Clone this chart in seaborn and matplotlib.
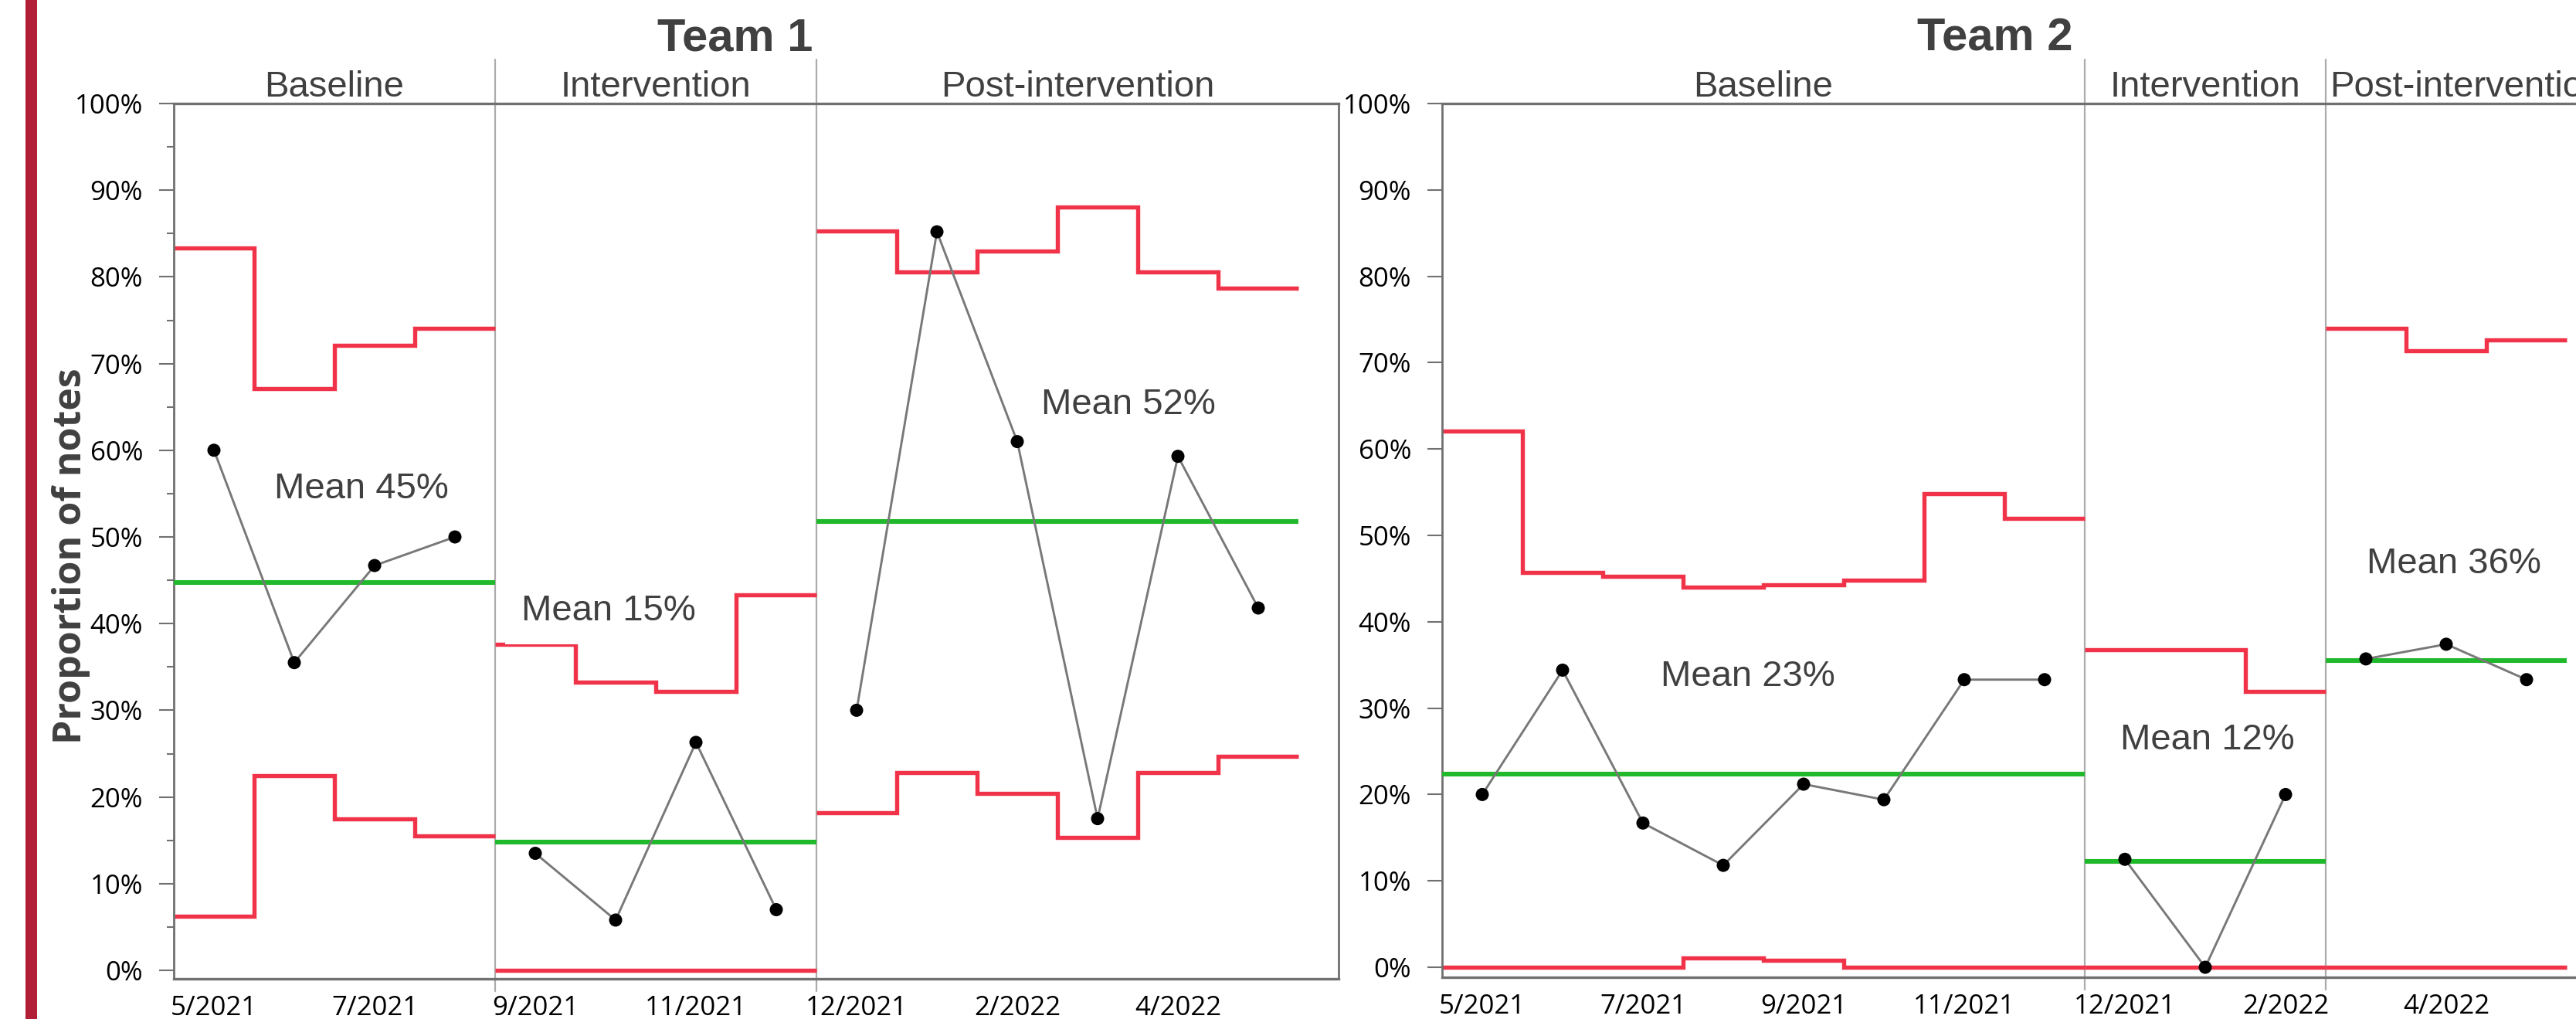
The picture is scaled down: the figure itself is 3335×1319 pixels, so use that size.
import numpy as np
import pandas as pd
import matplotlib.pyplot as plt
from matplotlib.patches import Rectangle
from matplotlib.ticker import PercentFormatter, MultipleLocator
import seaborn as sns


# ==================== DATA ====================
phase_names = ['Baseline', 'Intervention', 'Post-intervention']
month_ticks = [0, 2, 4, 6, 8, 10, 12]
month_labels = ['5/2021', '7/2021', '9/2021', '11/2021', '12/2021', '2/2022', '4/2022']

# Team 1
team1_counts = [4, 4, 6]
team1_pct = [0.600, 0.355, 0.467, 0.500,
             0.135, 0.058, 0.263, 0.070,
             0.300, 0.852, 0.610, 0.175, 0.593, 0.418]
team1_ucl = [0.833, 0.671, 0.721, 0.741,
             0.376, 0.332, 0.322, 0.433,
             0.853, 0.806, 0.830, 0.881, 0.806, 0.787]
team1_lcl = [0.062, 0.225, 0.175, 0.155,
             0.0, 0.0, 0.0, 0.0,
             0.182, 0.228, 0.204, 0.153, 0.228, 0.247]
team1_centre = [0.447, 0.148, 0.518]
team1_mean_labels = ['Mean 45%', 'Mean 15%', 'Mean 52%']

# Team 2
team2_counts = [8, 3, 3]
team2_pct = [0.200, 0.344, 0.167, 0.118, 0.212, 0.194, 0.333, 0.333,
             0.125, 0.0, 0.200,
             0.357, 0.374, 0.333]
team2_ucl = [0.621, 0.457, 0.453, 0.440, 0.443, 0.448, 0.548, 0.520,
             0.368, 0.368, 0.319,
             0.740, 0.714, 0.726]
team2_lcl = [0.0, 0.0, 0.0, 0.011, 0.008, 0.0, 0.0, 0.0,
             0.0, 0.0, 0.0,
             0.0, 0.0, 0.0]
team2_centre = [0.224, 0.123, 0.355]
team2_mean_labels = ['Mean 23%', 'Mean 12%', 'Mean 36%']

# ==================== STYLE ====================
RED = '#F03349'
GREEN = '#21B92C'
LINE_GREY = '#787878'
SEP_GREY = '#ACACAC'
SPINE_GREY = '#707070'
TEXT = '#404040'
TEXT_FONT = ['Liberation Sans', 'DejaVu Sans']
TICK_FONT = ['Open Sans', 'DejaVu Sans']

sns.set_theme(style='white')
plt.rcParams['font.family'] = TEXT_FONT

W, H = 3335, 1319
fig = plt.figure(figsize=(W / 100, H / 100), dpi=100)
fig.patch.set_facecolor('white')


def draw_team(ax, counts, pct, ucl, lcl, centre, mean_labels, mean_pos, ylim_lo, minor):
    pct = np.asarray(pct)
    ucl = np.asarray(ucl)
    lcl = np.asarray(lcl)
    idx = np.arange(len(pct))
    edges = np.concatenate([[-0.5], np.cumsum(counts) - 0.5])
    df = pd.DataFrame({'idx': idx, 'pct': pct,
                       'phase': np.repeat(phase_names, counts)})

    for k, name in enumerate(phase_names):
        lo, hi = edges[k], edges[k + 1]
        n = counts[k]
        sl = slice(int(lo + 0.5), int(hi + 0.5))
        step_edges = np.linspace(lo, hi, n + 1)
        ax.stairs(ucl[sl], step_edges, color=RED, lw=3.9, baseline=None, zorder=2)
        ax.stairs(lcl[sl], step_edges, color=RED, lw=3.9, baseline=None, zorder=2)
        ax.hlines(centre[k], lo, hi, color=GREEN, lw=4.4, zorder=3)
        sub = df[df['phase'] == name]
        sns.lineplot(data=sub, x='idx', y='pct', ax=ax, color=LINE_GREY,
                     lw=2.1, zorder=4)
        sns.scatterplot(data=sub, x='idx', y='pct', ax=ax, color='black',
                        s=150, edgecolor='none', zorder=5)

    xmax = 14.0
    ax.set_xlim(-0.5, xmax)
    ax.set_ylim(ylim_lo, 1.0)

    # phase separators, running past the frame
    for x in edges[1:-1]:
        ax.axvline(x, ymin=-0.014, ymax=1.05, color=SEP_GREY, lw=1.6,
                   clip_on=False, zorder=1)

    # phase headings
    label_edges = list(edges[:-1]) + [xmax]
    for k, name in enumerate(phase_names):
        xc = (label_edges[k] + label_edges[k + 1]) / 2
        ax.text(xc, 1.008, name, transform=ax.get_xaxis_transform(),
                ha='center', va='baseline', fontsize=34, color=TEXT,
                clip_on=False)

    # mean labels
    for (mx, my), lab in zip(mean_pos, mean_labels):
        ax.text(mx, my, lab, ha='center', va='baseline', fontsize=34,
                color=TEXT, zorder=6,
                bbox=dict(boxstyle='square,pad=0.45', fc='white', ec='none'))

    ax.set_xticks(month_ticks, month_labels)
    ax.yaxis.set_major_locator(MultipleLocator(0.1))
    ax.yaxis.set_major_formatter(PercentFormatter(1.0, decimals=0))
    if minor:
        ax.yaxis.set_minor_locator(MultipleLocator(0.05))
    ax.tick_params(axis='x', length=0, pad=15, labelsize=25,
                   labelcolor='black', labelfontfamily=TICK_FONT)
    ax.tick_params(axis='y', which='major', left=True, length=13.7, width=1.5,
                   color=SPINE_GREY, pad=15, labelsize=25, labelcolor='black',
                   labelfontfamily=TICK_FONT)
    ax.tick_params(axis='y', which='minor', left=True, length=6.5, width=1.5,
                   color=SPINE_GREY)
    ax.set_xlabel('')
    ax.set_ylabel('')
    for side in ['left', 'right', 'top', 'bottom']:
        ax.spines[side].set_color(SPINE_GREY)
        ax.spines[side].set_linewidth(2.0)
    ax.spines['top'].set_linewidth(2.4)
    ax.spines['bottom'].set_linewidth(2.4)
    ax.set_facecolor('white')


# ==================== AXES ====================
ax1 = fig.add_axes([225 / W, 52 / H, 1508 / W, 1133 / H])
draw_team(ax1, team1_counts, team1_pct, team1_ucl, team1_lcl, team1_centre,
          team1_mean_labels, [(1.84, 0.545), (4.91, 0.404), (11.38, 0.642)],
          -0.0098, True)

ax2 = fig.add_axes([1867 / W, 54 / H, 1508 / W, 1131 / H])
draw_team(ax2, team2_counts, team2_pct, team2_ucl, team2_lcl, team2_centre,
          team2_mean_labels, [(3.31, 0.326), (9.03, 0.252), (12.1, 0.456)],
          -0.0116, False)

# titles and shared y label
fig.text(952 / W, 1 - 65 / H, 'Team 1', ha='center', va='baseline',
         fontsize=43, fontweight='bold', color=TEXT)
fig.text(2583 / W, 1 - 65 / H, 'Team 2', ha='center', va='baseline',
         fontsize=43, fontweight='bold', color=TEXT)
fig.text(92 / W, 1 - 720 / H, 'Proportion of notes', rotation=90,
         ha='center', va='center', fontsize=36, fontweight='bold',
         color=TEXT, family=TICK_FONT)

# crimson accent bar on the left edge
fig.add_artist(Rectangle((33 / W, 0), 15 / W, 1, transform=fig.transFigure,
                         color='#B21E35', lw=0))

fig.savefig('out.png', dpi=100, facecolor='white')
